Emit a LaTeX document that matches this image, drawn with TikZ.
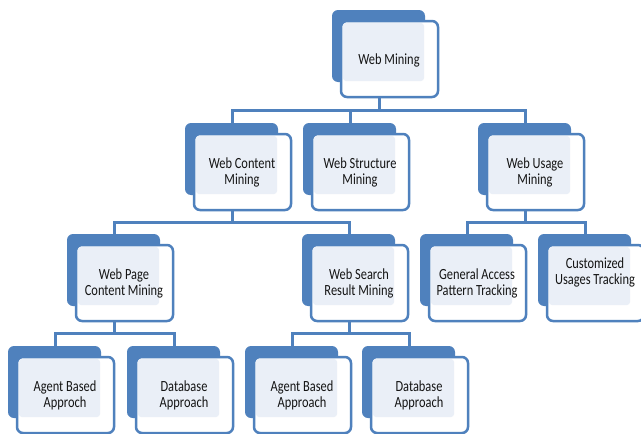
\documentclass[tikz,border=0pt]{standalone}
\usepackage{fontspec}
\setmainfont{Carlito}
\definecolor{ob}{HTML}{4F81BD}
\definecolor{lf}{HTML}{EAEFF7}
\definecolor{tx}{HTML}{141414}
\tikzset{
  txt/.style={text=tx, font=\fontsize{15.5}{16}\selectfont, inner sep=0pt},
  backbox/.style={fill=ob, rounded corners=6pt},
  frontbox/.style={draw=ob, line width=2.5pt, fill=white, rounded corners=6pt},
  lightbox/.style={fill=lf, rounded corners=3pt},
  conn/.style={draw=ob, line width=3pt}
}
\newcommand{\smbox}[5]{%
  \fill[backbox] (#2,#3) rectangle ++(93,72);
  \draw[frontbox] (#2+9,#3+11) rectangle ++(97,76);
  \fill[lightbox] (#2+11,#3+13) rectangle (#2+92,#3+71);
  \node[txt] (#1) at (#2+57,#3+#5) {\scalebox{0.8}[1]{\begin{tabular}{@{}c@{}}#4\end{tabular}}};
  \coordinate (#1-t) at (#2+47,#3);
  \coordinate (#1-b) at (#2+47,#3+87);
}
\begin{document}
\begin{tikzpicture}[x=1pt,y=-1pt]
\useasboundingbox (0,0) rectangle (641,434);
\clip (0,0) rectangle (641,434);
\fill[white] (0,0) rectangle (641,434);
\smbox{wm}{332}{10}{Web Mining}{51}
\smbox{wc}{185}{123}{Web Content\\Mining}{50}
\smbox{ws}{303}{123}{Web Structure\\Mining}{50}
\smbox{wu}{478}{123}{Web Usage\\Mining}{50}
\smbox{wp}{67}{234}{Web Page\\Content Mining}{50}
\smbox{wsr}{302}{234}{Web Search\\Result Mining}{50}
\smbox{ga}{420}{234}{General Access\\Pattern Tracking}{50}
\smbox{cu}{538}{234}{Customized\\Usages Tracking}{39}
\smbox{abA}{8}{346}{Agent Based\\Approch}{50}
\smbox{dbA}{127}{346}{Database\\Approach}{50}
\smbox{abB}{245}{346}{Agent Based\\Approach}{50}
\smbox{dbB}{362}{346}{Database\\Approach}{50}
% level 1
\draw[conn] (wm-b) -- ++(0,13);
\draw[conn] (wc-t) -- ++(0,-13) -| (wu-t);
\draw[conn] (ws-t) -- ++(0,-13);
% level 2
\draw[conn] (wc-b) -- ++(0,12);
\draw[conn] (wp-t) -- ++(0,-12) -| (wsr-t);
\draw[conn] (wu-b) -- ++(0,12);
\draw[conn] (ga-t) -- ++(0,-12) -| (cu-t);
% level 3
\draw[conn] (wp-b) -- ++(0,12);
\draw[conn] (abA-t) -- ++(0,-13) -| (dbA-t);
\draw[conn] (wsr-b) -- ++(0,12);
\draw[conn] (abB-t) -- ++(0,-13) -| (dbB-t);
\end{tikzpicture}
\end{document}
